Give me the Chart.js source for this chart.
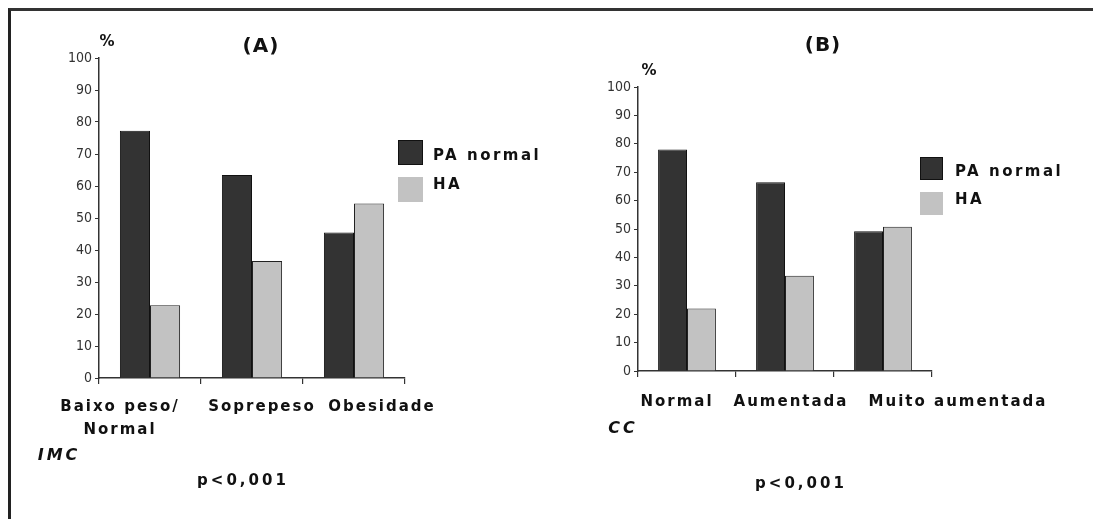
<!DOCTYPE html>
<html><head><meta charset="utf-8">
<script src="https://cdn.jsdelivr.net/npm/chart.js@4"></script>
<style>
html,body{margin:0;padding:0;background:#fff;}
#wrap{position:relative;width:1093px;height:519px;overflow:hidden;background:#fff;}
canvas{position:absolute;left:0;top:0;}
.t{position:absolute;transform:translate(-50%,-50%);white-space:nowrap;font-family:"DejaVu Sans",sans-serif;font-weight:bold;color:#111;line-height:1;}
.l{position:absolute;transform:translate(0,-50%);white-space:nowrap;font-family:"DejaVu Sans",sans-serif;font-weight:bold;color:#111;line-height:1;font-size:15px;letter-spacing:2.5px;}
.box{position:absolute;box-sizing:border-box;}
.frame{position:absolute;left:8px;top:8px;width:1100px;height:530px;border-left:3px solid #222;border-top:3px solid #333;}
</style>
</head><body>
<div id="wrap">
<div class="frame"></div>
<canvas id="cA" width="1093" height="519"></canvas>
<canvas id="cB" width="1093" height="519"></canvas>
</div>
<script>
// ---- data ----
const imcCategories = [["Baixo peso/", "Normal"], "Soprepeso", "Obesidade"];
const ccCategories = ["Normal", "Aumentada", "Muito aumentada"];
const seriesNames = ["PA normal", "HA"];
const seriesColors = ["#333333", "#c2c2c2"];
const imcPAnormal = [77.3, 63.4, 45.5];
const imcHA = [22.7, 36.6, 54.5];
const ccPAnormal = [78.0, 66.5, 49.2];
const ccHA = [22.0, 33.5, 50.8];
const yMin = 0, yMax = 100, yStep = 10;
const titleA = "(A)", titleB = "(B)";
const axisNameA = "IMC", axisNameB = "CC";
const pText = "p<0,001";
const unitText = "%";

const catLabelPlugin = {
  id: 'catLabels',
  afterDraw(chart, args, opts) {
    const sc = chart.scales.x, ctx = chart.ctx;
    ctx.save();
    ctx.font = opts.font;
    ctx.fillStyle = '#111';
    ctx.textAlign = 'center';
    ctx.textBaseline = 'middle';
    ctx.letterSpacing = opts.spacing;
    chart.data.labels.forEach((lab, i) => {
      const lines = Array.isArray(lab) ? lab : [lab];
      const x = sc.getPixelForValue(i) + opts.shift[i];
      lines.forEach((ln, j) => ctx.fillText(ln, x, sc.top + opts.gap + j * opts.lineHeight));
    });
    ctx.restore();
  }
};

function makeChart(id, labels, pa, ha, pad, tickFont, catOpts, catPct) {
  return new Chart(document.getElementById(id), {
    type: 'bar',
    data: {
      labels: labels,
      datasets: [
        {label: seriesNames[0], data: pa, backgroundColor: seriesColors[0], borderColor: '#111', borderWidth: 1,
         categoryPercentage: catPct, barPercentage: 1.0},
        {label: seriesNames[1], data: ha, backgroundColor: seriesColors[1], borderColor: '#222', borderWidth: 1,
         categoryPercentage: catPct, barPercentage: 1.0}
      ]
    },
    options: {
      responsive: false,
      animation: false,
      events: [],
      layout: {padding: pad},
      plugins: {legend: {display: false}, tooltip: {enabled: false}, title: {display: false}, catLabels: catOpts},
      scales: {
        x: {
          grid: {offset: true, drawOnChartArea: false, drawTicks: true, tickLength: 6, color: '#333', lineWidth: 1.2},
          border: {display: true, color: '#333', width: 1.5},
          ticks: {display: false},
          afterFit: s => { s.height = 10; }
        },
        y: {
          min: yMin, max: yMax,
          grid: {drawOnChartArea: false, drawTicks: true, tickLength: 4, color: '#333', lineWidth: 1},
          border: {display: true, color: '#333', width: 1.5},
          ticks: {stepSize: yStep, color: '#333', padding: 3, font: tickFont},
          afterFit: s => { s.width = 40; }
        }
      }
    },
    plugins: [catLabelPlugin]
  });
}

makeChart('cA', imcCategories, imcPAnormal, imcHA,
  {left: 59, right: 1093 - 405, top: 58, bottom: 519 - 378 - 10},
  {family: '"DejaVu Sans Condensed", "DejaVu Sans", sans-serif', size: 14},
  {font: 'bold 15px "DejaVu Sans"', spacing: '2px', shift: [-30, 10, 28], gap: 29, lineHeight: 23}, 0.59);

makeChart('cB', ccCategories, ccPAnormal, ccHA,
  {left: 598, right: 1093 - 932, top: 87, bottom: 519 - 371 - 10},
  {family: '"DejaVu Sans Condensed", "DejaVu Sans", sans-serif', size: 14},
  {font: 'bold 15px "DejaVu Sans"', spacing: '2px', shift: [-10, 6, 75], gap: 31, lineHeight: 23}, 0.59);

// ---- annotations ----
const wrap = document.getElementById('wrap');
function txt(s, cx, cy, size, extra) {
  const d = document.createElement('div');
  d.className = 't';
  d.textContent = s;
  d.style.left = cx + 'px'; d.style.top = cy + 'px'; d.style.fontSize = size + 'px';
  if (extra) Object.assign(d.style, extra);
  wrap.appendChild(d);
}
txt(titleA, 261, 45, 20, {letterSpacing: '1px'});
txt(titleB, 823, 44, 20, {letterSpacing: '1px'});
txt(unitText, 107, 41, 15);
txt(unitText, 649, 70, 15);
txt(axisNameA, 59, 455, 16, {fontStyle: 'italic', letterSpacing: '3px'});
txt(axisNameB, 623, 428, 16, {fontStyle: 'italic', letterSpacing: '3px'});
txt(pText, 243, 480, 15, {letterSpacing: '3px'});
txt(pText, 801, 483, 15, {letterSpacing: '3px'});

function legend(x, ys, size, tx, tys) {
  seriesNames.forEach((n, i) => {
    const b = document.createElement('div');
    b.className = 'box';
    Object.assign(b.style, {left: x + 'px', top: ys[i] + 'px', width: size + 'px', height: size + 'px',
      background: seriesColors[i], border: i === 0 ? '1px solid #111' : 'none'});
    wrap.appendChild(b);
    const t = document.createElement('div');
    t.className = 'l';
    t.textContent = n;
    t.style.left = tx + 'px'; t.style.top = tys[i] + 'px';
    wrap.appendChild(t);
  });
}
legend(398, [140, 177], 25, 433, [155, 184]);
legend(920, [157, 192], 23, 955, [171, 199]);
</script>
</body></html>
